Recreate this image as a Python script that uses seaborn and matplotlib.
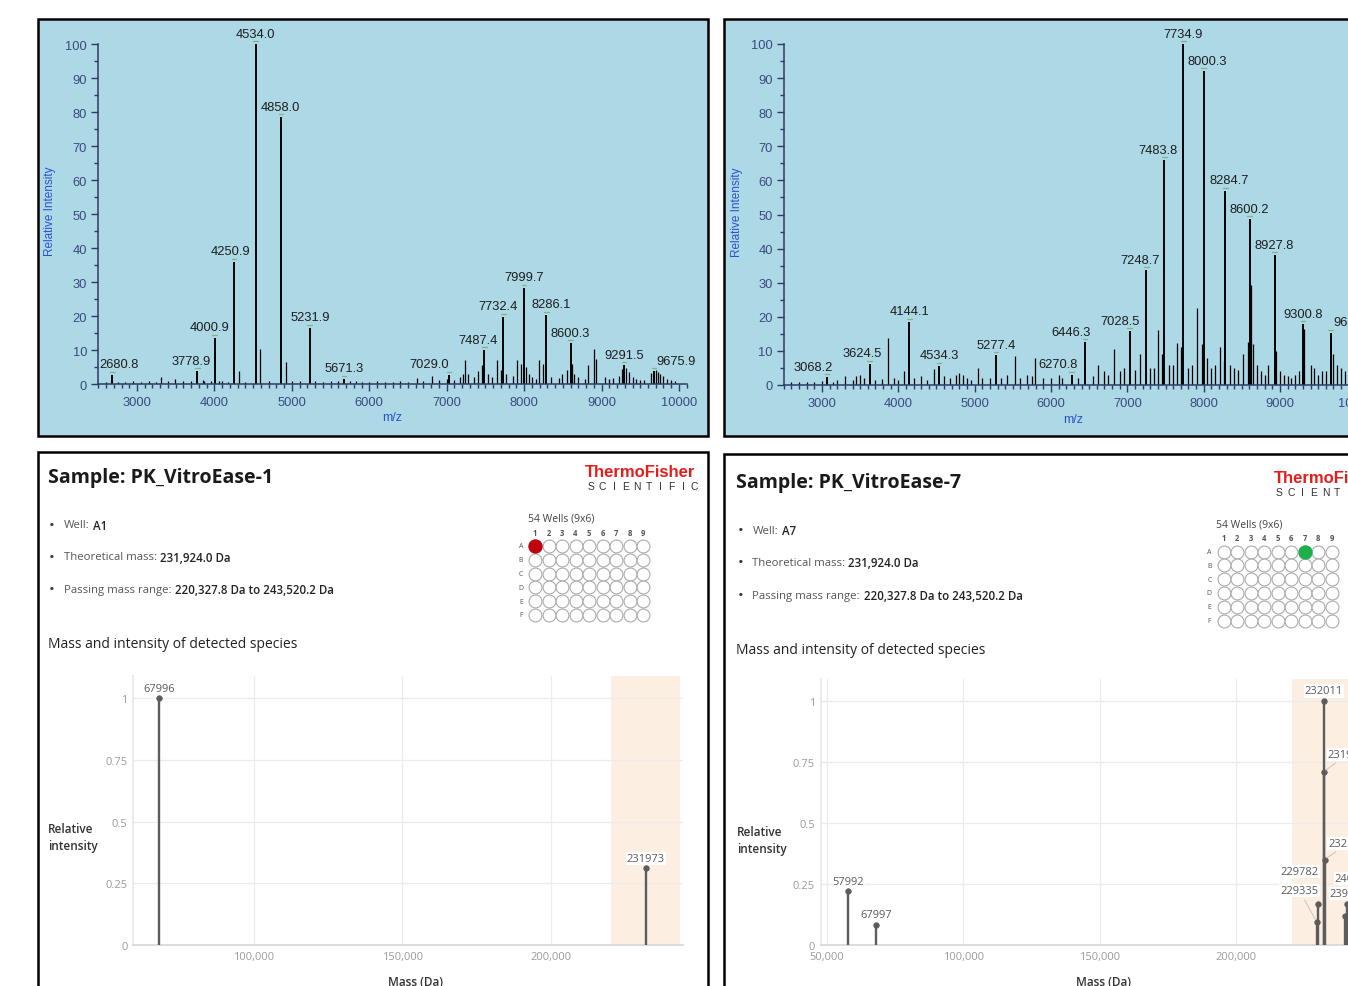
import pandas as pd
import seaborn as sns
import matplotlib.pyplot as plt
from matplotlib.patches import Rectangle
from matplotlib.ticker import MultipleLocator, FixedLocator, FuncFormatter

W, H = 1348, 987

# ---- MALDI spectrum, PK_VitroEase-1 (labelled peaks) ----
s1_peak_mz = [2680.8, 3778.9, 4000.9, 4250.9, 4534.0, 4858.0, 5231.9, 5671.3,
              7029.0, 7487.4, 7732.4, 7999.7, 8286.1, 8600.3, 9291.5, 9675.9]
s1_peak_int = [2.7, 3.8, 13.6, 36.0, 100.0, 78.5, 16.5, 1.5,
               2.7, 10.0, 19.8, 28.3, 20.4, 12.0, 5.6, 3.8]
# unlabelled sticks
s1_minor_mz = [2600, 2750, 2850, 2950, 3050, 3150, 3250, 3308, 3400, 3495,
               3600, 3700, 3850, 3870, 3950, 4060, 4100, 4180, 4319, 4400,
               4594, 4700, 4924, 5000, 5100, 5300, 5400, 5500, 5600, 5750,
               5830, 5900, 6000, 6100, 6200, 6300, 6400, 6500, 6617, 6700,
               6810, 6900, 7000, 7100, 7167, 7210, 7239, 7280, 7350, 7398,
               7460, 7530, 7580, 7651, 7700, 7760, 7850, 7909, 7960, 8030,
               8060, 8100, 8150, 8190, 8239, 8350, 8450, 8487, 8550, 8620,
               8650, 8700, 8780, 8822, 8904, 8926, 9050, 9100, 9150, 9230,
               9260, 9310, 9350, 9400, 9450, 9500, 9550, 9640, 9700, 9730,
               9760, 9800, 9850, 9900, 9950]
s1_minor_int = [0.5, 0.6, 0.7, 0.8, 0.6, 0.9, 0.7, 2.0, 1.0, 1.5,
                1.0, 0.8, 1.2, 1.0, 1.0, 1.0, 0.8, 0.6, 3.9, 0.7,
                10.2, 0.8, 6.4, 1.0, 0.9, 0.8, 0.6, 0.8, 0.8, 1.0,
                0.9, 0.7, 0.6, 0.9, 0.7, 0.6, 0.8, 0.7, 1.9, 1.0,
                2.3, 1.2, 1.5, 1.3, 2.0, 3.0, 7.0, 3.0, 2.0, 3.9,
                5.5, 3.0, 2.0, 7.0, 4.0, 3.0, 2.5, 7.0, 6.0, 5.0,
                3.0, 2.0, 1.5, 7.0, 5.8, 2.0, 1.8, 2.8, 4.0, 6.0,
                3.0, 2.0, 1.5, 5.6, 10.2, 7.3, 2.0, 1.5, 1.8, 2.5,
                4.5, 4.8, 3.5, 2.0, 1.5, 1.2, 1.3, 3.2, 4.0, 3.5,
                3.0, 2.5, 1.5, 1.2, 1.0]

# ---- MALDI spectrum, PK_VitroEase-7 ----
s2_peak_mz = [3068.2, 3624.5, 4144.1, 4534.3, 5277.4, 6270.8, 6446.3, 7028.5, 7248.7,
              7483.8, 7734.9, 8000.3, 8284.7, 8600.2, 8927.8, 9300.8, 9662.0]
s2_peak_int = [2.3, 6.2, 18.5, 5.6, 8.8, 3.0, 12.6, 15.8, 33.7,
               66.0, 100.0, 92.0, 57.0, 48.7, 38.0, 17.9, 15.3]
s2_minor_mz = [2600, 2700, 2800, 2900, 3000, 3150, 3200, 3300, 3400, 3450,
               3500, 3550, 3700, 3780, 3862, 3950, 4000, 4077, 4200, 4300,
               4380, 4464, 4600, 4680, 4750, 4800, 4850, 4900, 4950, 5044,
               5100, 5200, 5350, 5420, 5525, 5600, 5680, 5750, 5791, 5900,
               6000, 6100, 6150, 6350, 6550, 6622, 6700, 6750, 6821, 6900,
               6950, 7100, 7171, 7300, 7350, 7401, 7460, 7550, 7600, 7652,
               7705, 7800, 7850, 7919, 7980, 8050, 8100, 8150, 8212, 8260,
               8350, 8400, 8450, 8510, 8580, 8614, 8640, 8700, 8750, 8800,
               8839, 8950, 9000, 9050, 9100, 9150, 9200, 9250, 9320, 9400,
               9450, 9500, 9550, 9600, 9700, 9750, 9800, 9850, 9900, 9950]
s2_minor_int = [0.8, 0.9, 1.0, 0.8, 1.1, 1.0, 1.5, 2.5, 1.5, 2.5,
                3.0, 2.0, 1.5, 1.8, 13.9, 2.0, 1.5, 4.0, 2.0, 2.5,
                1.5, 4.7, 2.5, 2.0, 3.0, 3.5, 3.0, 2.0, 1.5, 5.0,
                2.0, 2.0, 2.0, 3.0, 8.4, 2.0, 3.0, 2.5, 8.0, 2.0,
                2.0, 3.0, 2.0, 2.0, 2.5, 5.8, 4.0, 3.0, 10.7, 4.0,
                5.0, 4.5, 9.0, 5.0, 5.0, 16.0, 9.0, 6.0, 6.0, 12.2,
                11.0, 5.0, 6.0, 22.6, 12.0, 8.0, 5.0, 6.0, 11.2, 7.0,
                6.0, 5.0, 4.5, 9.2, 12.5, 29.3, 12.0, 6.0, 4.0, 3.0,
                5.8, 10.0, 4.0, 3.0, 2.5, 2.0, 3.0, 4.0, 16.5, 6.0,
                5.0, 3.0, 4.0, 4.0, 9.0, 6.0, 5.0, 4.0, 3.0, 2.5]

# ---- deconvoluted masses (report panels) ----
m1_mass = [67996, 231973]
m1_int = [1.0, 0.31]
m7_mass = [57992, 67997, 229335, 229782, 232011, 231948, 232263, 239720, 240380]
m7_int = [0.22, 0.083, 0.095, 0.17, 1.0, 0.71, 0.35, 0.12, 0.17]

THEORETICAL = "231,924.0 Da"
PASS_LO, PASS_HI = 220327.8, 243520.2
Y_TICKS = [0, 0.25, 0.5, 0.75, 1]
PLATE_ROWS = list("ABCDEF")
PLATE_COLS = list(range(1, 10))

# label nudges (pixels) -- layout only
s1_nudge = {2680.8: 7, 3778.9: -6, 4000.9: -5, 4250.9: -3, 7029.0: -20,
            7487.4: -6, 7732.4: -5, 8286.1: 5, 9675.9: 22}
s2_nudge = {3068.2: -14, 3624.5: -7, 6270.8: -14, 6446.3: -14, 7028.5: -9,
            7248.7: -6, 7483.8: -6, 8000.3: 4, 8284.7: 4, 9662.0: 23}
m7_nudge = {231948: (23, 17, True), 232263: (23, 16, True), 229782: (-18, 32, False),
            229335: (-17, 31, True), 239720: (4, 22, False), 240380: (7, 25, False)}

AXIS_C = "#2e3b63"
TICK_C = "#3b4a7e"
BLUE_LAB = "#2f4fd0"
PANEL_BG = "#add8e6"
STEM_C = "#5c5c5c"

sns.set_theme(style="white")
plt.rcParams["font.family"] = ["Open Sans", "DejaVu Sans"]

fig = plt.figure(figsize=(W / 100, H / 100), dpi=100)
fig.patch.set_facecolor("white")


def fx(px):
    return px / W


def fy(py):
    return 1 - py / H


def box(left, top, right, bottom):
    return [fx(left), fy(bottom), (right - left) / W, (bottom - top) / H]


def frame(left, top, right, bottom, face):
    fig.add_artist(Rectangle((fx(left), fy(bottom)), (right - left) / W, (bottom - top) / H,
                             transform=fig.transFigure, facecolor=face, edgecolor="black",
                             lw=1.8, zorder=-5))


def spectrum(rect, peak_mz, peak_int, minor_mz, minor_int, nudge):
    ax = fig.add_axes(rect)
    ax.set_facecolor("none")
    ax.vlines(minor_mz, 0, minor_int, color="black", lw=0.9)
    ax.vlines(peak_mz, 0, peak_int, color="black", lw=1.4)
    ax.set_xlim(2500, 10100)
    ax.set_ylim(0, 100)
    ax.xaxis.set_major_locator(FixedLocator(range(3000, 10001, 1000)))
    ax.xaxis.set_minor_locator(MultipleLocator(100))
    ax.yaxis.set_major_locator(MultipleLocator(10))
    ax.yaxis.set_minor_locator(MultipleLocator(5))
    for s in ["top", "right"]:
        ax.spines[s].set_visible(False)
    for s in ["left", "bottom"]:
        ax.spines[s].set_color(AXIS_C)
        ax.spines[s].set_linewidth(1.1)
    ax.tick_params(which="both", direction="out", color=AXIS_C, labelcolor=TICK_C, width=1,
                   bottom=True, left=True)
    ax.tick_params(which="major", length=5, labelsize=9.3)
    ax.tick_params(axis="y", which="major", pad=3)
    ax.tick_params(axis="x", which="major", pad=4)
    ax.tick_params(which="minor", length=3)
    for lab in ax.get_xticklabels() + ax.get_yticklabels():
        lab.set_family("Liberation Sans")
    for mz, h in zip(peak_mz, peak_int):
        dx = nudge.get(mz, 0)
        ax.annotate(f"{mz:.1f}", (mz, h), xytext=(dx * 0.72, 7.5), textcoords="offset points",
                    ha="center", va="center", fontsize=9.3, family="Liberation Sans",
                    color="#1e1e1e", annotation_clip=False)
        ax.plot([mz - 30, mz + 30], [h + 0.9, h + 0.9], color="#7fb77f", lw=0.9, clip_on=False)
    return ax


def masses(rect, xlim, xticks, mass, inten, nudge):
    ax = fig.add_axes(rect)
    ax.set_facecolor("white")
    ax.axvspan(PASS_LO, PASS_HI, color="#fdeee2", lw=0, zorder=0)
    ax.set_xlim(*xlim)
    ax.set_ylim(0, 1.09)
    ax.set_xticks(xticks)
    ax.set_yticks(Y_TICKS)
    ax.xaxis.set_major_formatter(FuncFormatter(lambda v, _: f"{int(v):,}"))
    ax.yaxis.set_major_formatter(FuncFormatter(lambda v, _: f"{v:g}"))
    ax.grid(True, color="#ececec", lw=0.9)
    ax.set_axisbelow(True)
    for s in ["top", "right"]:
        ax.spines[s].set_visible(False)
    ax.spines["left"].set_color("#e8e8e8")
    ax.spines["bottom"].set_color("#d6d6d6")
    ax.spines["bottom"].set_linewidth(1.2)
    ax.tick_params(length=0, labelsize=8, labelcolor="#9a9a9a", pad=4)
    ax.vlines(mass, 0, inten, color=STEM_C, lw=1.7, zorder=3)
    sns.scatterplot(x=mass, y=inten, ax=ax, s=16, color=STEM_C, edgecolor=STEM_C,
                    linewidth=0.5, legend=False, zorder=4)
    for m, v in zip(mass, inten):
        dx, dy, leader = nudge.get(m, (0, 10, False))
        arrow = dict(arrowstyle="-", color="#c4c4c4", lw=0.7, shrinkA=2, shrinkB=2) if leader else None
        ax.annotate(str(m), (m, v), xytext=(dx * 0.72, dy * 0.72), textcoords="offset points",
                    ha="center", va="center", fontsize=8, color="#5a5a5a",
                    bbox=dict(boxstyle="square,pad=0.1", fc="white", ec="none"),
                    arrowprops=arrow, annotation_clip=False, zorder=5)
    return ax


def plate(left, top, filled_col, fill_color):
    sx, sy = 13.5, 13.8
    ax = fig.add_axes(box(left, top, left + 10.1 * sx, top + 8.1 * sy))
    ax.set_xlim(-0.5, 9.6)
    ax.set_ylim(6.6, -1.5)
    ax.axis("off")
    wells = pd.DataFrame([(c, r + 1) for r in range(len(PLATE_ROWS)) for c in PLATE_COLS],
                         columns=["col", "row"])
    sns.scatterplot(data=wells, x="col", y="row", s=86, color="white", edgecolor="#ababab",
                    linewidth=0.8, ax=ax, legend=False, clip_on=False)
    ax.scatter([filled_col], [1], s=86, color=fill_color, edgecolor=fill_color, zorder=3, clip_on=False)
    for c in PLATE_COLS:
        ax.text(c, 0, str(c), ha="center", va="center", fontsize=5.5, color="#555555", weight="bold")
    for r, letter in enumerate(PLATE_ROWS):
        ax.text(-0.05, r + 1, letter, ha="center", va="center", fontsize=5, color="#555555")
    ax.text(0.48, -1, "54 Wells (9x6)", ha="left", va="center", fontsize=7.5, color="#444444")


def header(dx, dy, sample, well):
    fig.text(fx(48 + dx), fy(478 + dy), f"Sample: {sample}", ha="left", va="center",
             fontsize=14, weight="bold", color="#1a1a1a")
    fig.text(fx(585 + dx), fy(473 + dy), "ThermoFisher", ha="left", va="center",
             fontsize=12, weight="bold", color="#e41d1d", family="Liberation Sans")
    for i, ch in enumerate("SCIENTIFIC"):
        fig.text(fx(591 + dx + i * 11.5), fy(487 + dy), ch, ha="center", va="center",
                 fontsize=7.5, color="#333333", family="Liberation Sans")
    rows = [("Well:", well, 93, 526), ("Theoretical mass:", THEORETICAL, 160, 558),
            ("Passing mass range:", f"{PASS_LO:,.1f} Da to {PASS_HI:,.1f} Da", 175, 591)]
    for label, value, vx, y in rows:
        fig.text(fx(52 + dx), fy(y + dy), "\u2022", ha="center", va="center", fontsize=11, color="#333333")
        fig.text(fx(64 + dx), fy(y + dy), label, ha="left", va="center", fontsize=8.2, color="#555555")
        fig.text(fx(vx + dx), fy(y + dy), value, ha="left", va="center", fontsize=8.3,
                 weight="semibold", color="#222222")
    fig.text(fx(48 + dx), fy(645 + dy), "Mass and intensity of detected species", ha="left",
             va="center", fontsize=10, color="#222222")


# panel frames
frame(38, 20, 708, 437, PANEL_BG)
frame(724, 20, 1400, 437, PANEL_BG)
frame(38, 453, 708, 1030, "white")
frame(724, 455, 1400, 1030, "white")

# top spectra
spectrum(box(98.3, 45, 686.7, 385), s1_peak_mz, s1_peak_int, s1_minor_mz, s1_minor_int, s1_nudge)
spectrum(box(783.8, 45, 1364, 386), s2_peak_mz, s2_peak_int, s2_minor_mz, s2_minor_int, s2_nudge)
for x, y in [(50, 211), (737, 212)]:
    fig.text(fx(x), fy(y), "Relative Intensity", rotation=90, ha="center", va="center",
             fontsize=8.5, color=BLUE_LAB, family="Liberation Sans")
for x, y in [(392, 418), (1073, 420)]:
    fig.text(fx(x), fy(y), "m/z", ha="center", va="center", fontsize=9, color=BLUE_LAB,
             family="Liberation Sans")

# report headers
header(0, 0, "PK_VitroEase-1", "A1")
header(688.5, 5.5, "PK_VitroEase-7", "A7")
plate(514.75, 512.5, 1, "#c00010")
plate(1203.25, 518, 7, "#1fb04c")

# mass plots
masses(box(133, 677, 683, 946), (59260, 244444), [100000, 150000, 200000], m1_mass, m1_int, {})
masses(box(820.6, 680, 1358, 946), (47800, 244500), [50000, 100000, 150000, 200000],
       m7_mass, m7_int, m7_nudge)
for x, y in [(48, 830), (737, 832)]:
    fig.text(fx(x), fy(y), "Relative", ha="left", va="center", fontsize=8.5, weight="semibold", color="#333333")
    fig.text(fx(x), fy(y + 17), "intensity", ha="left", va="center", fontsize=8.5, weight="semibold", color="#333333")
for x in [416, 1104]:
    fig.text(fx(x), fy(983), "Mass (Da)", ha="center", va="center", fontsize=8.5,
             weight="semibold", color="#333333")

plt.savefig("out.png", dpi=100)
